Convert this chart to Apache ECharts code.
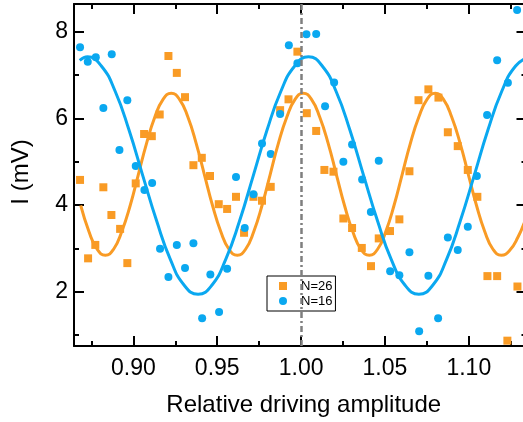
<!DOCTYPE html>
<html>
<head>
<meta charset="utf-8">
<script src="https://cdn.jsdelivr.net/npm/echarts@6.0.0/dist/echarts.min.js"></script>
<style>html,body{margin:0;padding:0;background:#fff;}#chart{width:523px;height:422px;}</style>
</head>
<body>
<div id="chart"></div>
<script>
// ---- data ----
const orangeX = [0.8682,0.8730,0.8773,0.8821,0.8869,0.8921,0.8964,0.9014,0.9064,0.9110,0.9157,0.9209,0.9259,0.9308,0.9358,0.9408,0.9457,0.9509,0.9559,0.9612,0.9660,0.9716,0.9767,0.9819,0.9875,0.9925,0.9978,1.0034,1.0090,1.0139,1.0193,1.0252,1.0304,1.0362,1.0417,1.0463,1.0530,1.0586,1.0646,1.0700,1.0759,1.0819,1.0875,1.0934,1.0994,1.1051,1.1111,1.1169,1.1230,1.1290];
const orangeY = [4.58,2.77,3.08,4.41,3.77,3.45,2.66,4.50,5.64,5.59,6.09,7.44,7.05,6.49,4.92,5.09,4.67,4.02,3.91,4.19,3.36,4.19,4.10,4.42,6.19,6.44,7.54,6.12,5.71,4.81,4.77,3.69,3.47,3.01,2.59,3.23,3.40,3.67,4.78,6.42,6.67,6.48,5.68,5.36,4.81,4.19,2.36,2.36,0.87,2.12];
const blueX = [0.8682,0.8728,0.8776,0.8821,0.8871,0.8917,0.8964,0.9014,0.9066,0.9112,0.9159,0.9209,0.9259,0.9308,0.9358,0.9410,0.9459,0.9511,0.9559,0.9612,0.9664,0.9716,0.9767,0.9819,0.9875,0.9927,0.9978,1.0032,1.0090,1.0143,1.0197,1.0252,1.0304,1.0364,1.0416,1.0463,1.0531,1.0586,1.0646,1.0704,1.0759,1.0817,1.0875,1.0934,1.0994,1.1048,1.1109,1.1169,1.1233,1.1288];
const blueY = [7.64,7.31,7.41,6.24,7.48,5.27,6.42,4.90,4.35,4.51,2.99,2.34,3.08,2.55,3.12,1.39,2.40,1.53,2.53,4.65,3.47,4.25,5.42,5.18,6.10,7.69,7.27,7.94,7.95,6.28,6.83,5.00,5.40,4.59,3.84,5.02,2.47,2.38,2.91,1.09,2.37,1.39,3.25,2.96,3.50,4.67,6.08,7.34,6.82,8.50];

// fitted curves, points
const fitOrangeX = [0.8686,0.8735,0.8784,0.8833,0.8882,0.8931,0.8981,0.9030,0.9079,0.9128,0.9177,0.9226,0.9275,0.9325,0.9374,0.9423,0.9472,0.9521,0.9570,0.9620,0.9669,0.9718,0.9767,0.9816,0.9865,0.9915,0.9964,1.0013,1.0062,1.0111,1.0161,1.0210,1.0259,1.0308,1.0357,1.0407,1.0456,1.0505,1.0554,1.0603,1.0652,1.0702,1.0751,1.0800,1.0849,1.0898,1.0948,1.0997,1.1046,1.1095,1.1144,1.1194,1.1243,1.1292,1.1341];
const fitOrangeY = [3.99,3.39,2.98,2.84,2.98,3.39,3.99,4.71,5.43,6.03,6.44,6.58,6.44,6.03,5.43,4.71,3.99,3.39,2.98,2.84,2.98,3.39,3.99,4.71,5.43,6.03,6.44,6.58,6.44,6.03,5.43,4.71,3.99,3.39,2.98,2.84,2.98,3.39,3.99,4.71,5.43,6.03,6.44,6.58,6.44,6.03,5.43,4.71,3.99,3.39,2.98,2.84,2.95,3.25,3.70];
const fitBlueX = [0.8680,0.8727,0.8809,0.8892,0.8974,0.9056,0.9139,0.9221,0.9303,0.9386,0.9468,0.9550,0.9633,0.9715,0.9797,0.9879,0.9962,1.0044,1.0126,1.0209,1.0291,1.0373,1.0456,1.0538,1.0620,1.0702,1.0785,1.0867,1.0949,1.1032,1.1114,1.1196,1.1279,1.1361];
const fitBlueY = [7.34,7.42,7.21,6.62,5.73,4.68,3.63,2.74,2.15,1.94,2.15,2.74,3.63,4.68,5.73,6.62,7.21,7.42,7.21,6.62,5.73,4.68,3.63,2.74,2.15,1.94,2.15,2.74,3.63,4.68,5.73,6.62,7.21,7.42];

const xMajor = [0.90,0.95,1.00,1.05,1.10];
const xMinor = [0.875,0.925,0.975,1.025,1.075,1.125];
const yMajor = [2,4,6,8];
const yMinor = [1,3,5,7];
const refLineX = 1.00;
const seriesNames = ['N=26','N=16'];
const xTitle = 'Relative driving amplitude';
const yTitle = 'I (mV)';

// ---- chart ----
const ORANGE = '#F99B25';
const BLUE = '#0AA8F0';
const FONT = 'Liberation Sans, Arial, sans-serif';
const X_MIN = 0.8646, X_MAX = 1.1344, Y_MIN = 0.747, Y_MAX = 8.64;

function zip(a, b) { return a.map((v, i) => [v, b[i]]); }

function xAx(pos, ticks, len, showLine, labels) {
  return {
    type: 'value', position: pos, min: X_MIN, max: X_MAX,
    splitLine: { show: false },
    axisLine: { show: showLine, onZero: false, lineStyle: { color: '#000', width: 2 } },
    axisTick: { show: true, inside: true, length: len, customValues: ticks, lineStyle: { color: '#000', width: 2 } },
    axisLabel: labels ? { show: true, customValues: ticks, margin: 11, color: '#000', fontSize: 23, fontFamily: FONT,
      formatter: v => Number(v).toFixed(2) } : { show: false },
    name: labels ? xTitle : '', nameLocation: 'middle', nameGap: 47,
    nameTextStyle: { color: '#000', fontSize: 24, fontFamily: FONT, padding: [0, 0, 0, 7] }
  };
}
function yAx(pos, ticks, len, showLine, labels) {
  return {
    type: 'value', position: pos, min: Y_MIN, max: Y_MAX,
    splitLine: { show: false },
    axisLine: { show: showLine, onZero: false, lineStyle: { color: '#000', width: 2 } },
    axisTick: { show: true, inside: true, length: len, customValues: ticks, lineStyle: { color: '#000', width: 2 } },
    axisLabel: labels ? { show: true, customValues: ticks, margin: 6, color: '#000', fontSize: 23, fontFamily: FONT,
      formatter: v => String(Math.round(v)) } : { show: false },
    name: labels ? yTitle : '', nameLocation: 'middle', nameGap: 41, nameRotate: 90,
    nameTextStyle: { color: '#000', fontSize: 24, fontFamily: FONT, padding: [0, 0, 0, 6] }
  };
}

const chart = echarts.init(document.getElementById('chart'), null, { renderer: 'canvas' });
chart.setOption({
  animation: false,
  backgroundColor: '#fff',
  grid: { left: 74, top: 4, width: 452.5, height: 342, outerBoundsMode: 'none', containLabel: false },
  xAxis: [
    xAx('bottom', xMajor, 10, true, true),
    xAx('bottom', xMinor, 5, false, false),
    xAx('top', xMajor, 10, true, false),
    xAx('top', xMinor, 5, false, false)
  ],
  yAxis: [
    yAx('left', yMajor, 10, true, true),
    yAx('left', yMinor, 5, false, false),
    yAx('right', yMajor, 10, true, false),
    yAx('right', yMinor, 5, false, false)
  ],
  legend: {
    orient: 'vertical', left: 267, top: 276,
    padding: [3, 3, 3, 12], itemGap: 1, itemWidth: 8, itemHeight: 8,
    backgroundColor: '#fff', borderColor: '#000', borderWidth: 1, borderRadius: 0,
    textStyle: { fontSize: 13, fontFamily: FONT, color: '#000', lineHeight: 14, padding: [0, 0, 0, 9] },
    data: [{ name: seriesNames[0], icon: 'rect' }, { name: seriesNames[1], icon: 'circle' }]
  },
  series: [
    {
      name: 'ref', type: 'line', data: [], z: 1,
      markLine: {
        silent: true, symbol: ['none', 'none'], label: { show: false },
        lineStyle: { color: '#7f7f7f', width: 2.5, type: [6, 3, 2, 3] },
        data: [{ xAxis: refLineX }]
      }
    },
    {
      name: seriesNames[0], type: 'scatter', symbol: 'rect', symbolSize: 8, z: 3,
      itemStyle: { color: ORANGE, opacity: 1 }, data: zip(orangeX, orangeY)
    },
    {
      name: seriesNames[1], type: 'scatter', symbol: 'circle', symbolSize: 8, z: 3,
      itemStyle: { color: BLUE, opacity: 1 }, data: zip(blueX, blueY)
    },
    {
      name: 'fit26', type: 'line', smooth: true, showSymbol: false, z: 4,
      lineStyle: { color: ORANGE, width: 3 }, itemStyle: { color: ORANGE }, data: zip(fitOrangeX, fitOrangeY)
    },
    {
      name: 'fit16', type: 'line', smooth: true, showSymbol: false, z: 4,
      lineStyle: { color: BLUE, width: 3 }, itemStyle: { color: BLUE }, data: zip(fitBlueX, fitBlueY)
    }
  ]
});
</script>
</body>
</html>
